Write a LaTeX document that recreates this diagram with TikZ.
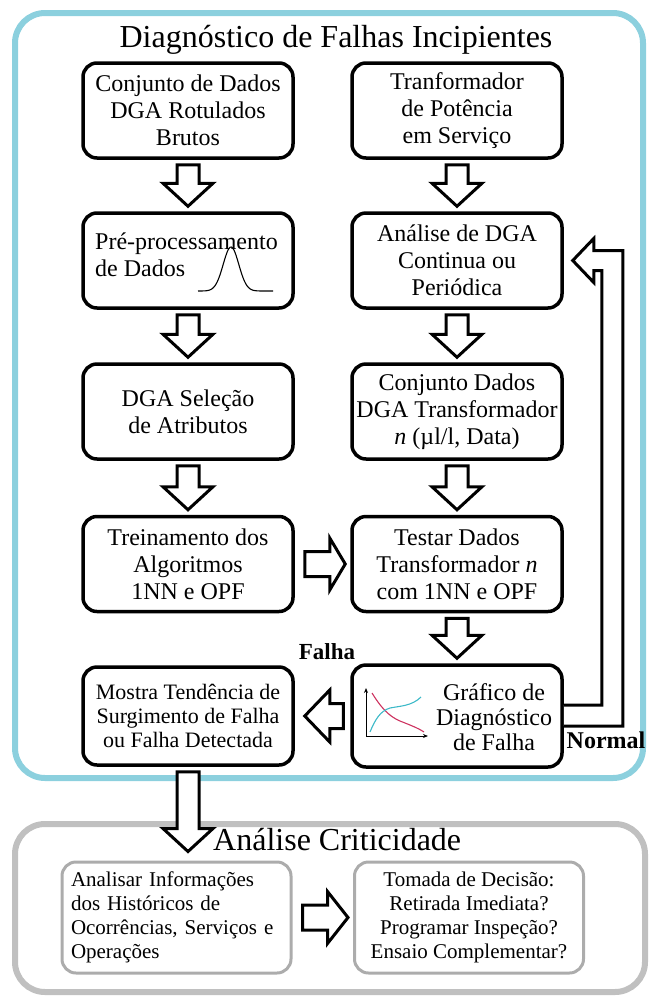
\documentclass[tikz,border=0pt]{standalone}
\usepackage{fontspec}
\setmainfont{Liberation Serif}
\usetikzlibrary{calc,arrows.meta}
\definecolor{bluebox}{RGB}{140,208,222}
\definecolor{graybox}{RGB}{192,192,192}
\definecolor{grayin}{RGB}{172,172,172}
\definecolor{redc}{RGB}{205,50,95}
\definecolor{cyanc}{RGB}{60,185,200}
% block arrows: down, right, left
\newcommand\dnarr[3]{\draw[barrow] let \p1=(#1.south), \p2=(#2.north) in
  (\x1-11pt,\y1-5pt) -- (\x1+11pt,\y1-5pt) -- (\x1+11pt,\y2+#3+23pt) -- (\x1+25pt,\y2+#3+23pt)
  -- (\x1,\y2+#3) -- (\x1-25pt,\y2+#3+23pt) -- (\x1-11pt,\y2+#3+23pt) -- cycle;}
\newcommand\rtarr[2]{\draw[barrow] let \p1=(#1.east), \p2=(#2.west) in
  (\x1+10pt,\y1+12.5pt) -- (\x1+35pt,\y1+12.5pt) -- (\x1+35pt,\y1+26pt) -- (\x2-5pt,\y1)
  -- (\x1+35pt,\y1-26pt) -- (\x1+35pt,\y1-12.5pt) -- (\x1+10pt,\y1-12.5pt) -- cycle;}
\newcommand\ltarr[2]{\draw[barrow] let \p1=(#1.west), \p2=(#2.east) in
  (\x1-7pt,\y1+12.5pt) -- (\x2+35pt,\y1+12.5pt) -- (\x2+35pt,\y1+26pt) -- (\x2+10pt,\y1)
  -- (\x2+35pt,\y1-26pt) -- (\x2+35pt,\y1-12.5pt) -- (\x1-7pt,\y1-12.5pt) -- cycle;}
\begin{document}
\begin{tikzpicture}[x=1pt,y=-1pt,
  box/.style={draw=black, line width=3.5pt, rounded corners=14pt, minimum width=210pt,
    minimum height=95pt, inner sep=0pt, align=center, font=\fontsize{24}{27}\selectfont},
  gbox/.style={draw=grayin, line width=3pt, rounded corners=14pt, minimum width=229pt,
    minimum height=111pt, inner sep=9pt, font=\fontsize{21}{24}\selectfont},
  lbl/.style={inner sep=0pt, font=\fontsize{24}{27}\selectfont},
  boldlbl/.style={inner sep=0pt, font=\fontsize{23}{26}\selectfont\bfseries},
  barrow/.style={draw=black, fill=white, line width=3pt, line join=miter},
  curve/.style={line width=1.1pt}]
\useasboundingbox (0,0) rectangle (649,997);
% frames
\draw[bluebox, line width=6pt, rounded corners=30pt] (15,13) rectangle (643,778);
\draw[graybox, line width=6pt, rounded corners=30pt] (15,824) rectangle (645,992);
% titles
\node[anchor=base, inner sep=0pt, font=\fontsize{32}{36}\selectfont] (title) at (336,47) {Diagnóstico de Falhas Incipientes};
\node[anchor=base west, inner sep=0pt, font=\fontsize{32}{36}\selectfont] (title2) at (213,850) {Análise Criticidade};
% column boxes
\node[box] (c1) at (188,110.5) {Conjunto de Dados\\DGA Rotulados\\Brutos};
\node[box] (t1) at (457,110.5) {Tranformador\\de Potência\\em Serviço};
\node[box] (pre) at (188,260.5) {};
\node[lbl, align=left, anchor=west] (pretxt) at (95,255) {Pré-processamento\\de Dados};
\draw[curve] plot[domain=198:273, samples=80] (\x, {291-44*exp(-((\x-231)/11)^2)});
\node[box] (anal) at (457,260.5) {Análise de DGA\\Continua ou\\Periódica};
\node[box] (sel) at (188,411.5) {DGA Seleção\\de Atributos};
\node[box] (cdt) at (457,411.5) {Conjunto Dados\\DGA Transformador\\\textit{n} (µl/l, Data)};
\node[box] (trein) at (188,564) {Treinamento dos\\Algoritmos\\1NN e OPF};
\node[box] (test) at (457,564) {Testar Dados\\Transformador \textit{n}\\com 1NN e OPF};
\node[box, minimum height=98pt, font=\fontsize{22}{24}\selectfont] (mostra) at (188,716) {Mostra Tendência de\\Surgimento de Falha\\ou Falha Detectada};
\node[box, minimum height=102pt] (graf) at (457,716) {};
\node[lbl, align=center, font=\fontsize{24}{25}\selectfont] (graftxt) at (494,717) {Gráfico de\\Diagnóstico\\de Falha};
% small chart
\draw[line width=1pt, -{Stealth[length=5pt,width=4pt]}] (366,736) -- (366,688);
\draw[line width=1pt, -{Stealth[length=5pt,width=4pt]}] (366,736) -- (428,736);
\draw[curve, redc] (372,693) .. controls (380,706) and (388,716) .. (400,721) .. controls (410,725) and (418,728) .. (424,732);
\draw[curve, cyanc] (370,732) .. controls (375,720) and (380,711) .. (390,708) .. controls (400,706) and (412,706) .. (421,697);
% labels
\node[boldlbl] (falha) at (327,652) {Falha};
\node[boldlbl, font=\fontsize{24}{26}\selectfont\bfseries] (normal) at (606,740) {Normal};
% criticality boxes
\node[gbox, text width=211pt, align=left] (hist) at (176.5,917.5) {Analisar Informações\\dos Históricos de\\Ocorrências, Serviços e\\Operações};
\node[gbox, align=center] (dec) at (469,917.5) {Tomada de Decisão:\\Retirada Imediata?\\Programar Inspeção?\\Ensaio Complementar?};
% arrows
\dnarr{c1}{pre}{5pt}
\dnarr{pre}{sel}{5pt}
\dnarr{sel}{trein}{5pt}
\dnarr{t1}{anal}{5pt}
\dnarr{anal}{cdt}{5pt}
\dnarr{cdt}{test}{5pt}
\dnarr{test}{graf}{5pt}
\rtarr{trein}{test}
\ltarr{graf}{mostra}
\rtarr{hist}{dec}
\dnarr{mostra}{hist}{9pt}
% feedback arrow (Normal)
\draw[barrow] let \p1=(graf.east), \p2=(anal.east) in
  (\x1,\y1+11pt) -- (\x1+38pt,\y1+11pt) -- (\x1+38pt,\y2-10pt) -- (\x2+30pt,\y2-10pt)
  -- (\x2+30pt,\y2-22pt) -- (\x2+9pt,\y2) -- (\x2+30pt,\y2+22pt) -- (\x2+30pt,\y2+10pt)
  -- (\x1+59pt,\y2+10pt) -- (\x1+59pt,\y1-10pt) -- (\x1,\y1-10pt);
\end{tikzpicture}
\end{document}
